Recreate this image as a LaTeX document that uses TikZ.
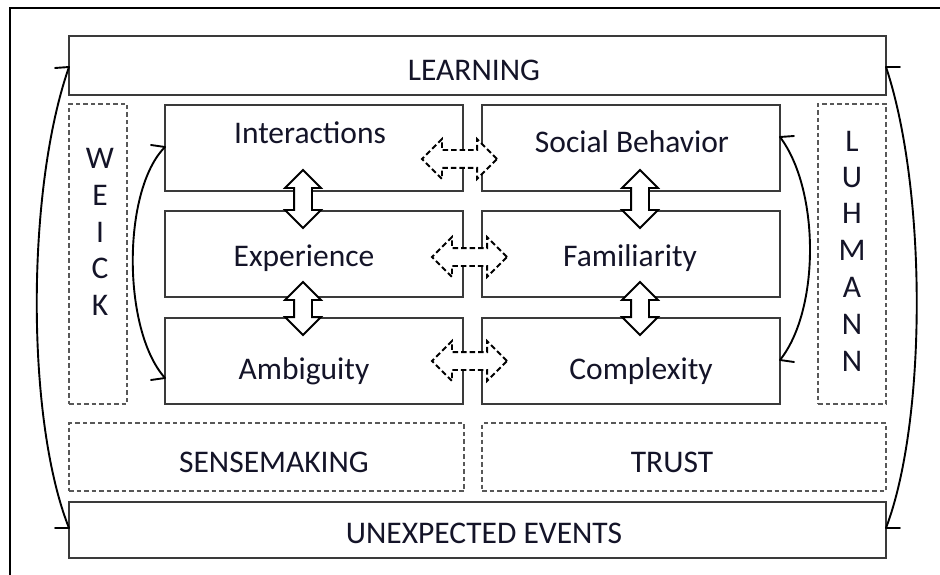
\documentclass[tikz,border=0pt]{standalone}
\usepackage{fontspec}
\setmainfont{Carlito}
\usetikzlibrary{shapes.arrows,calc}
\definecolor{boxline}{HTML}{3A3A3A}
\definecolor{txt}{HTML}{141428}
\begin{document}
\begin{tikzpicture}[x=1pt,y=-1pt,
  box/.style={draw=boxline,line width=1.8pt,rectangle,inner sep=0pt,outer sep=0pt},
  dbox/.style={draw=boxline!85,line width=1.2pt,dash pattern=on 4.5pt off 3pt,rectangle,inner sep=0pt,outer sep=0pt},
  lbl/.style={anchor=base,inner sep=0pt,text=txt,font=\fontsize{31.5}{36}\selectfont},
  vdbl/.style={double arrow,rotate=90,draw=black,fill=white,line width=1.8pt,inner xsep=0pt,inner ysep=8pt,double arrow head extend=9pt},
  hdbl/.style={double arrow,draw=black,fill=white,line width=1.8pt,dash pattern=on 5.5pt off 3pt,inner xsep=0pt,inner ysep=8pt,double arrow head extend=11pt},
  curv/.style={line width=1.9pt,line cap=round},
  barb/.style={line width=1.9pt,line cap=round}
]
\useasboundingbox (0,0) rectangle (940,575);
\fill[white] (0,0) rectangle (940,575);
\draw[line width=2.2pt] (10,576) -- (10,8) -- (941,8);

% boxes
\node[box,minimum width=817pt,minimum height=59pt] (learn) at (477.5,65.5) {};
\node[box,minimum width=817pt,minimum height=56pt] (unexp) at (477.5,530) {};
\node[dbox,minimum width=58pt,minimum height=300pt] (weick) at (98,254) {};
\node[dbox,minimum width=68pt,minimum height=300pt] (luh) at (852,254) {};
\node[dbox,minimum width=395pt,minimum height=68pt] (sense) at (266.5,457) {};
\node[dbox,minimum width=404pt,minimum height=68pt] (trust) at (684,457) {};
\node[box,minimum width=298pt,minimum height=86pt] (int) at (314,148) {};
\node[box,minimum width=298pt,minimum height=86pt] (exp) at (314,254) {};
\node[box,minimum width=298pt,minimum height=86pt] (amb) at (314,361) {};
\node[box,minimum width=298pt,minimum height=86pt] (soc) at (631,148) {};
\node[box,minimum width=298pt,minimum height=86pt] (fam) at (631,254) {};
\node[box,minimum width=298pt,minimum height=86pt] (com) at (631,361) {};

% labels
\node[lbl] (tlearn) at (474,81) {LEARNING};
\node[lbl] (tunexp) at (484,543) {UNEXPECTED EVENTS};
\node[lbl] (tsense) at (274,472) {SENSEMAKING};
\node[lbl] (ttrust) at (672,472) {TRUST};
\node[lbl] (tint) at (310,144) {Interactions};
\node[lbl] (texp) at (304,266) {Experience};
\node[lbl] (tamb) at (304,379) {Ambiguity};
\node[lbl] (tsoc) at (632,153) {Social Behavior};
\node[lbl] (tfam) at (630,266) {Familiarity};
\node[lbl] (tcom) at (641,379) {Complexity};
\foreach \l/\y [count=\i] in {W/168,E/205,I/242,C/278,K/315}
  \node[lbl] (w\i) at (100,\y) {\l};
\foreach \l/\y [count=\i] in {L/152,U/187,H/223,M/260,A/297,N/334,N/371}
  \node[lbl] (l\i) at (852,\y) {\l};

% vertical block arrows
\node[vdbl,minimum height=58pt] (v1) at (303,199) {};
\node[vdbl,minimum height=53pt] (v2) at (303,308.5) {};
\node[vdbl,minimum height=58pt] (v3) at (640,199) {};
\node[vdbl,minimum height=53pt] (v4) at (640,308.5) {};

% horizontal dashed block arrows
\node[hdbl,minimum height=75pt] (h1) at (459.5,159) {};
\node[hdbl,minimum height=75pt] (h2) at (469.5,257) {};
\node[hdbl,minimum height=75pt] (h3) at (469.5,361) {};

% curved arrows (each end: the curve plus a short horizontal barb)
\coordinate (a1) at ($(learn.west)+(0,1.5)$);
\coordinate (a2) at ($(unexp.west)+(0,-2)$);
\draw[curv] (a2) .. controls (26,420) and (26,190) .. (a1);
\draw[barb] (a1) -- ++(-14,1);
\draw[barb] (a2) -- ++(-14,0);
\coordinate (b1) at ($(int.west)+(0,-1)$);
\coordinate (b2) at ($(amb.west)+(0,17)$);
\draw[curv] (b2) .. controls (122,330) and (122,190) .. (b1);
\draw[barb] (b1) -- ++(-14,-2);
\draw[barb] (b2) -- ++(-14,2);
\coordinate (c1) at ($(soc.east)+(0,-11)$);
\coordinate (c2) at ($(com.east)+(0,-1)$);
\draw[curv] (c1) .. controls (820,190) and (820,310) .. (c2);
\draw[barb] (c1) -- ++(14,-1);
\draw[barb] (c2) -- ++(14,2);
\coordinate (d1) at ($(learn.east)+(0,1.5)$);
\coordinate (d2) at ($(unexp.east)+(0,-2)$);
\draw[curv] (d1) .. controls (927,190) and (927,420) .. (d2);
\draw[barb] (d1) -- ++(14,0);
\draw[barb] (d2) -- ++(14,0);
\end{tikzpicture}
\end{document}
